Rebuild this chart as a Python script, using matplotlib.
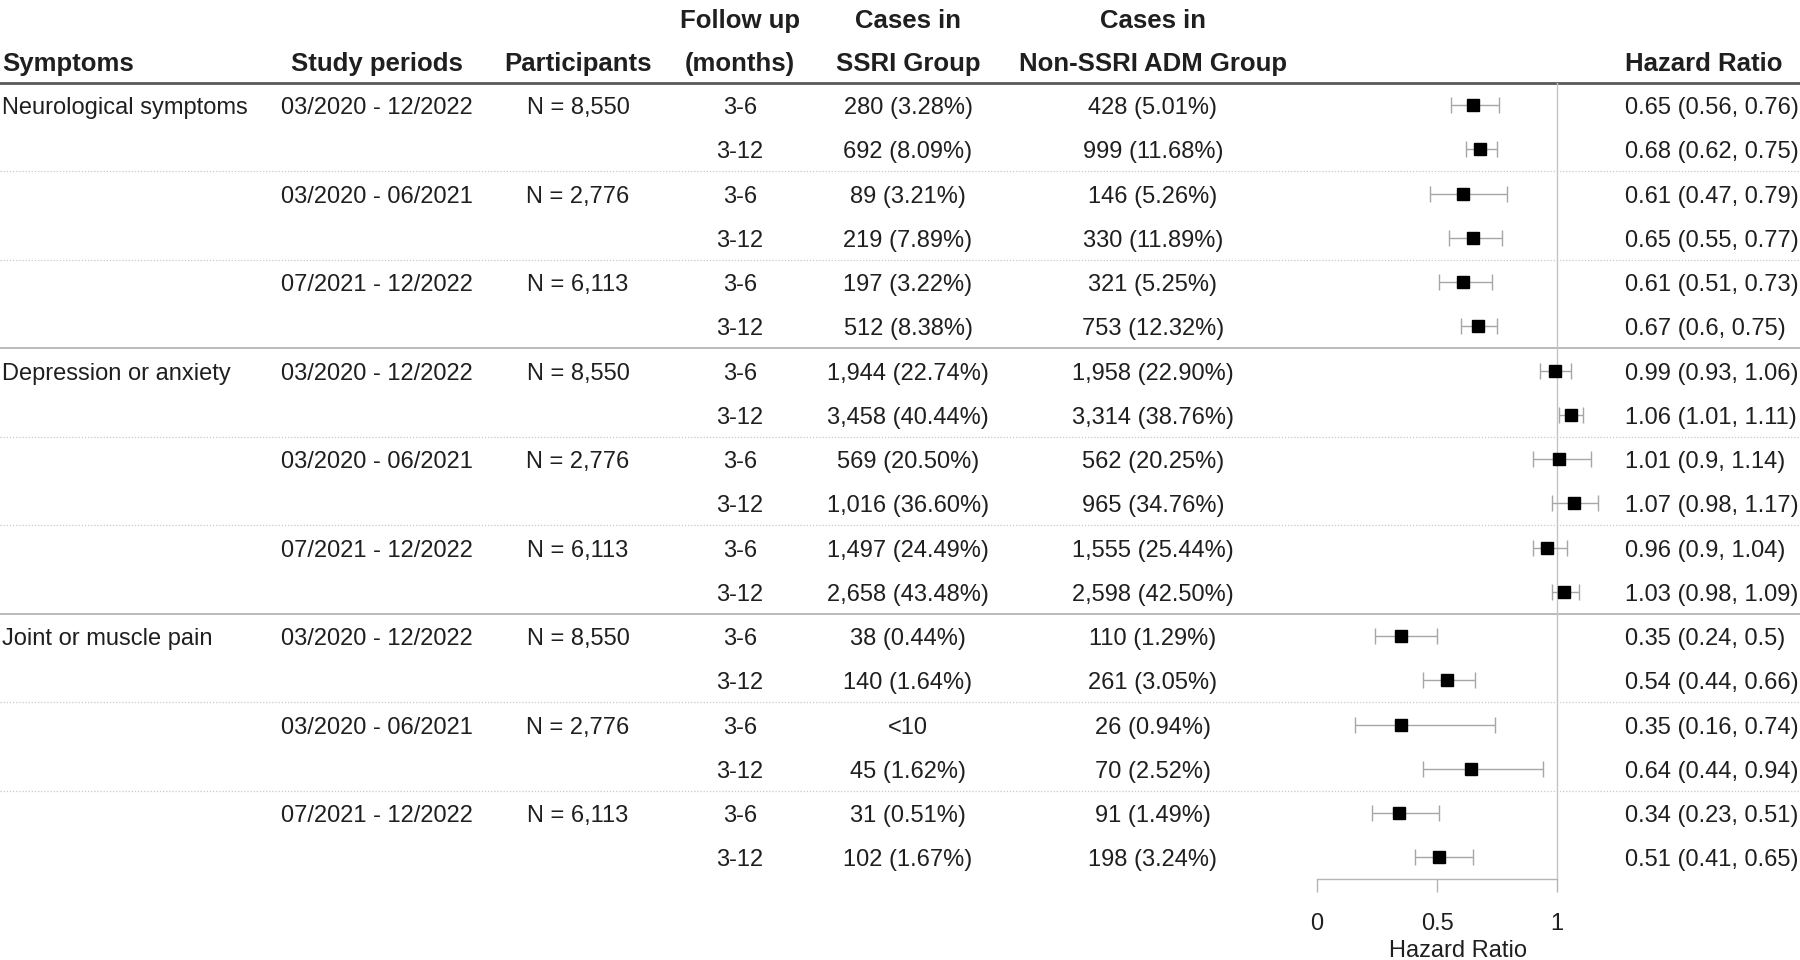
import matplotlib
matplotlib.use("Agg")
import matplotlib.pyplot as plt
import matplotlib.transforms as transforms
import numpy as np

plt.rcParams['font.family'] = ['Liberation Sans', 'DejaVu Sans']

# table data
symptoms = ["Neurological symptoms", "Depression or anxiety", "Joint or muscle pain"]
periods = ["03/2020 - 12/2022", "03/2020 - 06/2021", "07/2021 - 12/2022"]
participants = ["N = 8,550", "N = 2,776", "N = 6,113"]
follow_up = ["3-6", "3-12"]

ssri_cases = ["280 (3.28%)", "692 (8.09%)", "89 (3.21%)", "219 (7.89%)", "197 (3.22%)", "512 (8.38%)",
              "1,944 (22.74%)", "3,458 (40.44%)", "569 (20.50%)", "1,016 (36.60%)", "1,497 (24.49%)", "2,658 (43.48%)",
              "38 (0.44%)", "140 (1.64%)", "<10", "45 (1.62%)", "31 (0.51%)", "102 (1.67%)"]
non_ssri_cases = ["428 (5.01%)", "999 (11.68%)", "146 (5.26%)", "330 (11.89%)", "321 (5.25%)", "753 (12.32%)",
                  "1,958 (22.90%)", "3,314 (38.76%)", "562 (20.25%)", "965 (34.76%)", "1,555 (25.44%)", "2,598 (42.50%)",
                  "110 (1.29%)", "261 (3.05%)", "26 (0.94%)", "70 (2.52%)", "91 (1.49%)", "198 (3.24%)"]

hr = np.array([0.65, 0.68, 0.61, 0.65, 0.61, 0.67,
               0.99, 1.06, 1.01, 1.07, 0.96, 1.03,
               0.35, 0.54, 0.35, 0.64, 0.34, 0.51])
hr_lo = np.array([0.56, 0.62, 0.47, 0.55, 0.51, 0.6,
                  0.93, 1.01, 0.9, 0.98, 0.9, 0.98,
                  0.24, 0.44, 0.16, 0.44, 0.23, 0.41])
hr_hi = np.array([0.76, 0.75, 0.79, 0.77, 0.73, 0.75,
                  1.06, 1.11, 1.14, 1.17, 1.04, 1.09,
                  0.5, 0.66, 0.74, 0.94, 0.51, 0.65])

W, H = 1800, 960
txt = '#1f1f1f'
fs = 17
hfs = 18.5

fig = plt.figure(figsize=(W / 100, H / 100), dpi=100)
# one axes over the whole width; x in hazard-ratio units, y in row index
ax = fig.add_axes([0, (H - 879) / H, 1, 879 / H])
px_per_unit = 240
x0 = 1317
ax.set_xlim(-x0 / px_per_unit, (W - x0) / px_per_unit)
row0, row_h = 105, 44.25
ax.set_ylim((879 - row0) / row_h, -row0 / row_h)

rows = np.arange(len(hr))
col = transforms.blended_transform_factory(ax.transAxes, ax.transData)
dy = 0.07  # small nudge so text sits on the row line like the markers

# header
hy1, hy2 = -1.9, -0.92
ax.text(2 / W, hy2, "Symptoms", transform=col, ha='left', va='center', fontsize=hfs, fontweight='bold', color=txt)
ax.text(377 / W, hy2, "Study periods", transform=col, ha='center', va='center', fontsize=hfs, fontweight='bold', color=txt)
ax.text(578 / W, hy2, "Participants", transform=col, ha='center', va='center', fontsize=hfs, fontweight='bold', color=txt)
ax.text(740 / W, hy1, "Follow up", transform=col, ha='center', va='center', fontsize=hfs, fontweight='bold', color=txt)
ax.text(740 / W, hy2, "(months)", transform=col, ha='center', va='center', fontsize=hfs, fontweight='bold', color=txt)
ax.text(908 / W, hy1, "Cases in", transform=col, ha='center', va='center', fontsize=hfs, fontweight='bold', color=txt)
ax.text(908 / W, hy2, "SSRI Group", transform=col, ha='center', va='center', fontsize=hfs, fontweight='bold', color=txt)
ax.text(1153 / W, hy1, "Cases in", transform=col, ha='center', va='center', fontsize=hfs, fontweight='bold', color=txt)
ax.text(1153 / W, hy2, "Non-SSRI ADM Group", transform=col, ha='center', va='center', fontsize=hfs, fontweight='bold', color=txt)
ax.text(1625 / W, hy2, "Hazard Ratio", transform=col, ha='left', va='center', fontsize=hfs, fontweight='bold', color=txt)

# body text
for i in rows:
    s = i // 6
    p = (i % 6) // 2
    f = i % 2
    y = i + dy
    if i % 6 == 0:
        ax.text(2 / W, y, symptoms[s], transform=col, ha='left', va='center', fontsize=fs, color=txt)
    if i % 2 == 0:
        ax.text(377 / W, y, periods[p], transform=col, ha='center', va='center', fontsize=fs, color=txt)
        ax.text(578 / W, y, participants[p], transform=col, ha='center', va='center', fontsize=fs, color=txt)
    ax.text(740 / W, y, follow_up[f], transform=col, ha='center', va='center', fontsize=fs, color=txt)
    ax.text(908 / W, y, ssri_cases[i], transform=col, ha='center', va='center', fontsize=fs, color=txt)
    ax.text(1153 / W, y, non_ssri_cases[i], transform=col, ha='center', va='center', fontsize=fs, color=txt)
    ax.text(1625 / W, y, f"{hr[i]:g} ({hr_lo[i]:g}, {hr_hi[i]:g})", transform=col,
            ha='left', va='center', fontsize=fs, color=txt)

# separators
ax.axhline(-0.5, color='#5a5a5a', lw=2.0, zorder=1)
for i in rows[:-1]:
    if (i + 1) % 6 == 0:
        ax.axhline(i + 0.5, color='#a8a8a8', lw=1.1, zorder=1)
    elif (i + 1) % 2 == 0:
        ax.axhline(i + 0.5, color='#c8c8c8', lw=0.9, linestyle=(0, (1, 1.5)), zorder=1)

# reference line at HR = 1
ax.plot([1, 1], [-0.5, ax.get_ylim()[0]], color='#c4c4c4', lw=1.0, zorder=1)

# forest plot
ax.errorbar(hr, rows, xerr=[hr - hr_lo, hr_hi - hr], fmt='none', ecolor='#a6a6a6',
            elinewidth=1.0, capsize=6, capthick=1.0, zorder=2)
ax.plot(hr, rows, 's', color='black', markersize=8, zorder=3)

# axis
for side in ['top', 'right', 'left']:
    ax.spines[side].set_visible(False)
ax.spines['bottom'].set_bounds(0, 1)
ax.spines['bottom'].set_color('#b5b5b5')
ax.spines['bottom'].set_linewidth(1.0)
ax.set_yticks([])
ax.set_xticks([0, 0.5, 1])
ax.set_xticklabels(["0", "0.5", "1"])
ax.tick_params(axis='x', length=9.5, width=1.0, color='#b5b5b5', labelsize=fs, labelcolor=txt, pad=15)
ax.patch.set_visible(False)

fig.text(1458 / W, 1 - 951 / H, "Hazard Ratio", ha='center', va='center', fontsize=fs, color=txt)

fig.savefig("out.png", dpi=100)
